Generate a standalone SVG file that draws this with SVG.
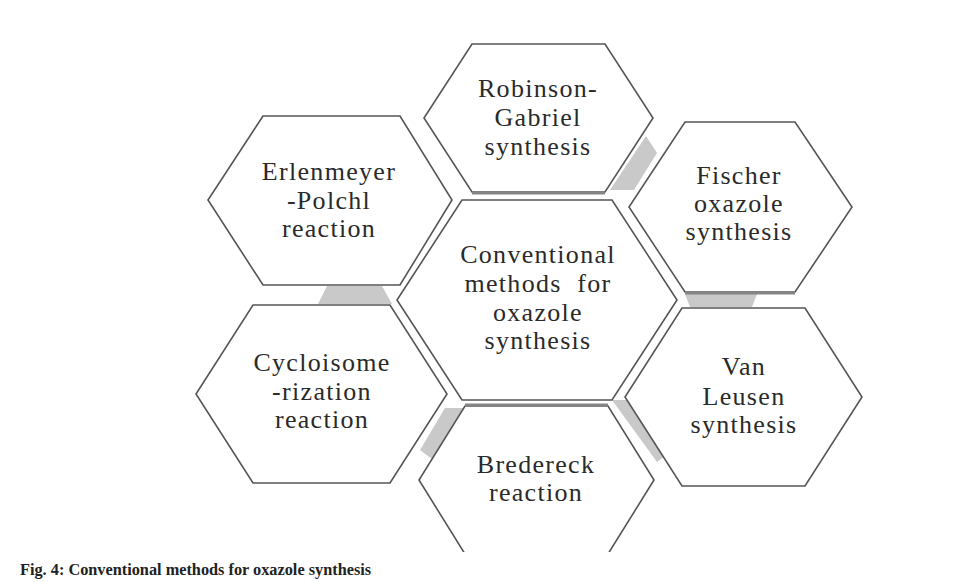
<svg xmlns="http://www.w3.org/2000/svg" width="979" height="582" viewBox="0 0 979 582">
<style>
.hex{fill:#fff;stroke:#555;stroke-width:1.6;stroke-linejoin:miter}
.lbl{font-size:26px;fill:#2a2a2a;text-anchor:middle;letter-spacing:1.3px}
.conn{fill:#c9c9c9;stroke:none}
.edge{stroke:#858585;stroke-width:3;fill:none}
.cap{font-size:16.3px;font-weight:bold;fill:#222}
</style>
<defs>
<clipPath id="clipB"><rect x="0" y="0" width="979" height="552"/></clipPath>
</defs>
<rect width="979" height="582" fill="#fff"/>
<g id="connectors">
<polygon class="conn" points="610,190 646,136 657,153 634,190"/>
<polygon class="conn" points="327,286 382,286 392,304 318,304"/>
<polygon class="conn" points="685,294 757,294 752,307 690,307"/>
<polygon class="conn" points="445,408 465,408 432,459 420,450"/>
<polygon class="conn" points="612,400 628,400 665,456 657,462"/>
</g>
<g font-family="'Liberation Serif', 'Times New Roman', 'DejaVu Serif', serif">
<g id="robinson">
<polygon class="hex" points="472,44 605,44 653,118 605,192 472,192 424,118"/>
<line class="edge" x1="472" y1="193" x2="605" y2="193"/>
<text class="lbl" x="538" y="97">Robinson-</text>
<text class="lbl" x="538" y="126">Gabriel</text>
<text class="lbl" x="538" y="155">synthesis</text>
</g>
<g id="erlenmeyer">
<polygon class="hex" points="263,116 400,116 452,200 400,285 263,285 208,200"/>
<text class="lbl" x="329" y="180">Erlenmeyer</text>
<text class="lbl" x="329" y="209">-Polchl</text>
<text class="lbl" x="329" y="237">reaction</text>
</g>
<g id="fischer">
<polygon class="hex" points="685,122 795,122 852,207 795,292 685,292 629,207"/>
<line class="edge" x1="685" y1="293" x2="795" y2="293"/>
<text class="lbl" x="739" y="184">Fischer</text>
<text class="lbl" x="739" y="212">oxazole</text>
<text class="lbl" x="739" y="240">synthesis</text>
</g>
<g id="center">
<polygon class="hex" points="462,200 612,200 677,300 612,400 462,400 397,300"/>
<text class="lbl" x="538" y="263">Conventional</text>
<text class="lbl" x="538" y="292" xml:space="preserve">methods  for</text>
<text class="lbl" x="538" y="321">oxazole</text>
<text class="lbl" x="538" y="349">synthesis</text>
</g>
<g id="cycloisomerization">
<polygon class="hex" points="253,305 390,305 447,394 390,483 253,483 196,394"/>
<text class="lbl" x="322" y="371">Cycloisome</text>
<text class="lbl" x="322" y="400">-rization</text>
<text class="lbl" x="322" y="428">reaction</text>
</g>
<g id="vanleusen">
<polygon class="hex" points="682,308 805,308 862,397 805,486 682,486 625,397"/>
<text class="lbl" x="744" y="375">Van</text>
<text class="lbl" x="744" y="405">Leusen</text>
<text class="lbl" x="744" y="433">synthesis</text>
</g>
<g id="bredereck">
<polygon class="hex" clip-path="url(#clipB)" points="465,406 608,406 654,480 608,554 465,554 419,480"/>
<line class="edge" x1="465" y1="405" x2="608" y2="405"/>
<text class="lbl" x="536" y="473">Bredereck</text>
<text class="lbl" x="536" y="501">reaction</text>
</g>
<text class="cap" x="20" y="575">Fig. 4: Conventional methods for oxazole synthesis</text>
</g>
</svg>
